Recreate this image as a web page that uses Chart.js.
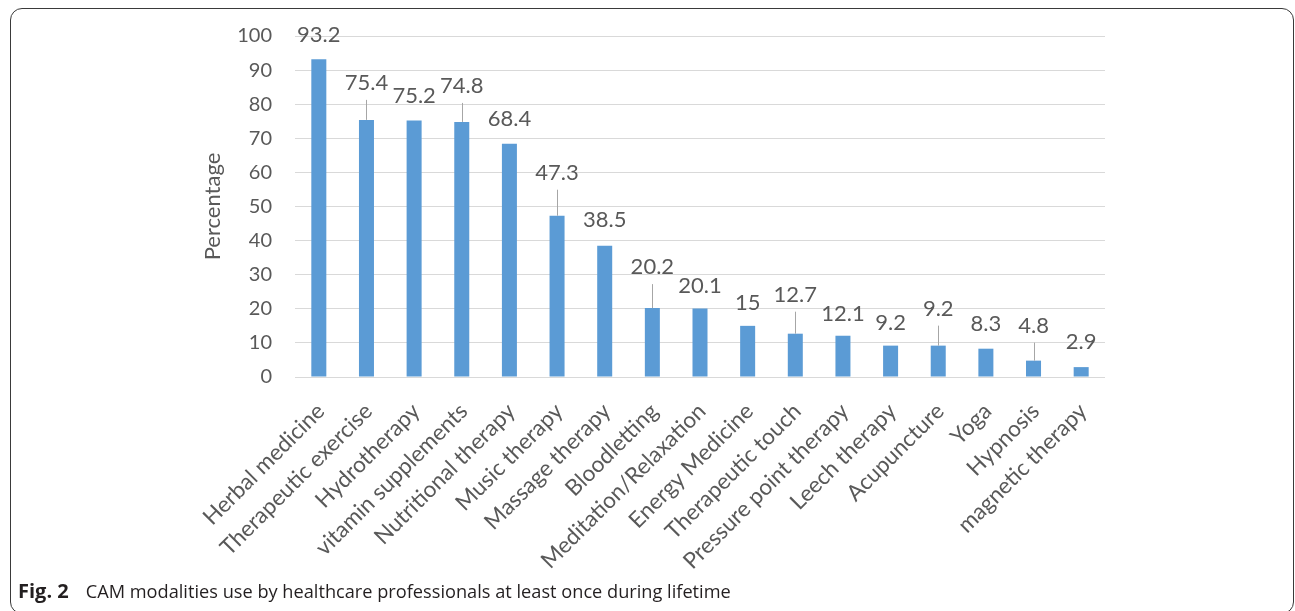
<!DOCTYPE html>
<html>
<head>
<meta charset="utf-8">
<script src="https://cdn.jsdelivr.net/npm/chart.js@4"></script>
<style>
  html, body { margin: 0; padding: 0; background: #fff; }
  body { width: 1295px; height: 611px; position: relative; overflow: hidden; }
  #frame {
    position: absolute; left: 10px; top: 8px; width: 1284px; height: 606px;
    box-sizing: border-box; border: 1.3px solid #3a3a3a; border-radius: 12px;
  }
  #chartBox { position: absolute; left: 0; top: 0; width: 1295px; height: 611px; }
  #caption {
    position: absolute; left: 18px; top: 577px; white-space: nowrap;
    font-family: "Open Sans", sans-serif; font-size: 18.2px; color: #231f20;
  }
  #caption b { font-weight: 700; font-size: 20px; margin-right: 17px; }
</style>
</head>
<body>
<div id="frame"></div>
<div id="chartBox"><canvas id="barChart" width="1295" height="611"></canvas></div>
<div id="caption"><b>Fig. 2</b>CAM modalities use by healthcare professionals at least once during lifetime</div>
<script>
const modalities = [
    "Herbal medicine", "Therapeutic exercise", "Hydrotherapy", "vitamin supplements",
    "Nutritional therapy", "Music therapy", "Massage therapy", "Bloodletting",
    "Meditation/Relaxation", "Energy Medicine", "Therapeutic touch", "Pressure point therapy",
    "Leech therapy", "Acupuncture", "Yoga", "Hypnosis", "magnetic therapy"
];
const percentages = [93.2, 75.4, 75.2, 74.8, 68.4, 47.3, 38.5, 20.2, 20.1, 15, 12.7, 12.1, 9.2, 9.2, 8.3, 4.8, 2.9];
const yTicks = [0, 10, 20, 30, 40, 50, 60, 70, 80, 90, 100];

// how far (px) each value label sits above its bar; the lifted ones get a leader line
const labelLift = [24, 37, 25, 36, 25, 43, 26, 41, 23, 23, 39, 22, 23, 37, 25, 35, 25];

const textGrey = '#595959';
const fontName = 'Lato';

const valueLabels = {
    id: 'valueLabels',
    afterDatasetsDraw(chart) {
        const ctx = chart.ctx;
        const meta = chart.getDatasetMeta(0);
        ctx.save();
        ctx.font = '22px ' + fontName;
        ctx.fillStyle = textGrey;
        ctx.textAlign = 'center';
        ctx.textBaseline = 'middle';
        meta.data.forEach((bar, i) => {
            const lift = labelLift[i];
            const ly = bar.y - lift;
            ctx.fillText(String(percentages[i]), bar.x, ly);
            if (lift > 30) {
                ctx.strokeStyle = '#a6a6a6';
                ctx.lineWidth = 1;
                ctx.beginPath();
                ctx.moveTo(Math.round(bar.x) + 0.5, ly + 17);
                ctx.lineTo(Math.round(bar.x) + 0.5, bar.y);
                ctx.stroke();
            }
        });
        ctx.restore();
    }
};

const ctx = document.getElementById('barChart').getContext('2d');
new Chart(ctx, {
    type: 'bar',
    data: {
        labels: modalities,
        datasets: [{
            data: percentages,
            backgroundColor: '#5b9bd5',
            borderWidth: 0,
            barPercentage: 0.315,
            categoryPercentage: 1
        }]
    },
    options: {
        responsive: false,
        animation: false,
        layout: { padding: { left: 200, right: 190, top: 36, bottom: 30 } },
        plugins: {
            legend: { display: false },
            tooltip: { enabled: false }
        },
        scales: {
            x: {
                grid: { display: false },
                border: { display: false },
                ticks: {
                    color: textGrey,
                    font: { family: fontName, size: 22.5 },
                    minRotation: 45,
                    maxRotation: 45,
                    autoSkip: false,
                    padding: 13,
                    labelOffset: 2
                },
                afterFit(scale) { scale.height = 204; }
            },
            y: {
                min: 0,
                max: 100,
                afterBuildTicks(scale) { scale.ticks = yTicks.map(v => ({ value: v })); },
                grid: { color: '#d9d9d9', lineWidth: 1, drawTicks: false },
                border: { display: false },
                ticks: {
                    color: textGrey,
                    font: { family: fontName, size: 20 },
                    padding: 23
                },
                title: {
                    display: true,
                    text: 'Percentage',
                    color: textGrey,
                    font: { family: fontName, size: 22 },
                    padding: { top: 0, bottom: 0 }
                },
                afterFit(scale) { scale.width = 95; }
            }
        }
    },
    plugins: [valueLabels]
});
</script>
</body>
</html>
